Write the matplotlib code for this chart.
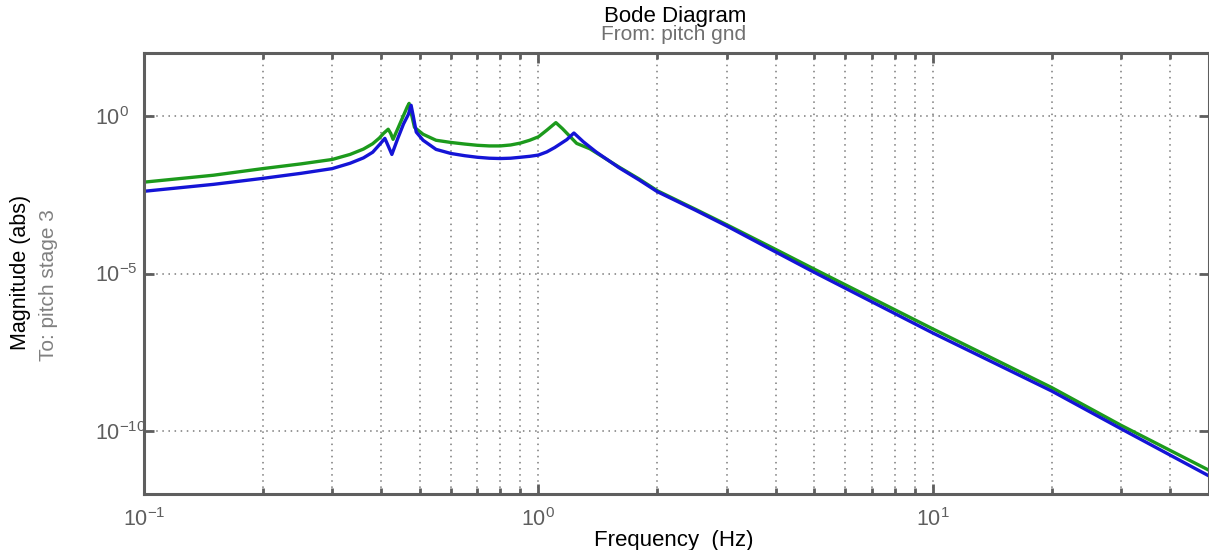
import numpy as np
import matplotlib
matplotlib.use("Agg")
import matplotlib.pyplot as plt
from matplotlib.ticker import LogLocator, NullFormatter, FixedLocator, FuncFormatter

plt.rcParams['font.family'] = ['Liberation Sans', 'DejaVu Sans']
plt.rcParams['mathtext.fontset'] = 'custom'
plt.rcParams['mathtext.rm'] = 'Liberation Sans'
plt.rcParams['mathtext.it'] = 'Liberation Sans'
plt.rcParams['axes.unicode_minus'] = False

# ---- data (frequency in Hz, magnitude as log10 exponent) ----
freq_green = [0.1, 0.15, 0.2, 0.25, 0.3, 0.333, 0.36, 0.38, 0.395, 0.405, 0.416, 0.422,
              0.428, 0.44, 0.455, 0.465, 0.470, 0.476, 0.485, 0.51, 0.55, 0.6, 0.65, 0.7,
              0.75, 0.8, 0.85, 0.9, 0.95, 1.0, 1.05, 1.107, 1.15, 1.25, 1.35, 1.6, 1.8, 2,
              2.5, 3, 4, 5, 10, 20, 30, 50]
exp_green = [-2.10, -1.88, -1.67, -1.52, -1.38, -1.22, -1.05, -0.88, -0.70, -0.55, -0.42, -0.55,
             -0.74, -0.40, 0.02, 0.29, 0.40, 0.08, -0.36, -0.58, -0.77, -0.84, -0.89, -0.93,
             -0.95, -0.95, -0.92, -0.86, -0.77, -0.66, -0.45, -0.21, -0.40, -0.87, -1.04,
             -1.62, -2.00, -2.37, -2.96, -3.45, -4.24, -4.86, -6.76, -8.62, -9.82, -11.24]

freq_blue = [0.1, 0.15, 0.2, 0.25, 0.3, 0.333, 0.36, 0.38, 0.396, 0.408, 0.416, 0.425,
             0.44, 0.455, 0.468, 0.4755, 0.482, 0.49, 0.51, 0.55, 0.6, 0.65, 0.7, 0.75,
             0.8, 0.85, 0.9, 0.95, 1.0, 1.05, 1.1, 1.18, 1.23, 1.3, 1.4, 1.6, 1.8, 2, 2.5,
             3, 4, 5, 10, 20, 30, 50]
exp_blue = [-2.39, -2.17, -1.98, -1.82, -1.67, -1.50, -1.33, -1.15, -0.90, -0.71, -0.95, -1.22,
            -0.71, -0.25, 0.05, 0.34, -0.03, -0.51, -0.77, -1.06, -1.19, -1.26, -1.31, -1.34,
            -1.35, -1.34, -1.31, -1.28, -1.24, -1.14, -1.00, -0.75, -0.54, -0.82, -1.14,
            -1.64, -2.03, -2.40, -2.99, -3.49, -4.32, -4.96, -6.89, -8.73, -9.93, -11.42]

title = "Bode Diagram"
from_label = "From: pitch gnd"
to_label = "To: pitch stage 3"
ylabel = "Magnitude (abs)"
xlabel = "Frequency  (Hz)"

mag_green = np.power(10.0, exp_green)
mag_blue = np.power(10.0, exp_blue)

W, H = 1209, 550
fig = plt.figure(figsize=(W / 100, H / 100), dpi=100)
ax = fig.add_axes([144 / W, 1 - 494 / H, (1208.6 - 144) / W, (494 - 53) / H])

ax.plot(freq_green, mag_green, color='#1c9a1c', lw=2.4, solid_joinstyle='round')
ax.plot(freq_blue, mag_blue, color='#1414d6', lw=2.4, solid_joinstyle='round')

ax.set_xscale('log')
ax.set_yscale('log')
ax.set_xlim(0.1, 50)
ax.set_ylim(1e-12, 1e2)


def pow_fmt(v, pos):
    e = int(round(np.log10(v)))
    return r'$\mathdefault{10^{%d}}$' % e


ax.xaxis.set_major_locator(LogLocator(base=10, numticks=10))
ax.xaxis.set_minor_locator(LogLocator(base=10, subs=np.arange(2, 10), numticks=20))
ax.xaxis.set_minor_formatter(NullFormatter())
ax.xaxis.set_major_formatter(FuncFormatter(pow_fmt))
ax.yaxis.set_major_locator(FixedLocator([1e-10, 1e-5, 1e0]))
ax.yaxis.set_minor_locator(FixedLocator([]))
ax.yaxis.set_major_formatter(FuncFormatter(pow_fmt))

grid_kw = dict(color='#7a7a7a', linestyle=(0, (1, 3)), linewidth=1.1)
ax.grid(True, which='major', axis='both', **grid_kw)
ax.grid(True, which='minor', axis='x', **grid_kw)

gray = '#5e5e5e'
for s in ax.spines.values():
    s.set_color(gray)
    s.set_linewidth(2.2)

ax.tick_params(axis='both', which='both', direction='in', top=True, right=True,
               color=gray, width=2)
ax.tick_params(axis='both', which='major', length=7, labelsize=15.5, labelcolor=gray)
ax.tick_params(axis='x', which='minor', length=4)
ax.tick_params(axis='x', which='major', pad=10)
ax.tick_params(axis='y', which='major', pad=35)
for lab in ax.get_yticklabels():
    lab.set_horizontalalignment('left')

fig.text(675 / W, 1 - 22 / H, title, ha='center', va='baseline', fontsize=16, color='black')
fig.text(674 / W, 1 - 40 / H, from_label, ha='center', va='baseline', fontsize=15, color='#707070')
fig.text(21 / W, 1 - 272 / H, ylabel, ha='center', va='center', rotation=90, fontsize=15.5, color='black')
fig.text(49 / W, 1 - 285 / H, to_label, ha='center', va='center', rotation=90, fontsize=15, color='#808080')
fig.text(674 / W, 1 - 546 / H, xlabel, ha='center', va='baseline', fontsize=16, color='black')

fig.savefig('out.png', dpi=100)
